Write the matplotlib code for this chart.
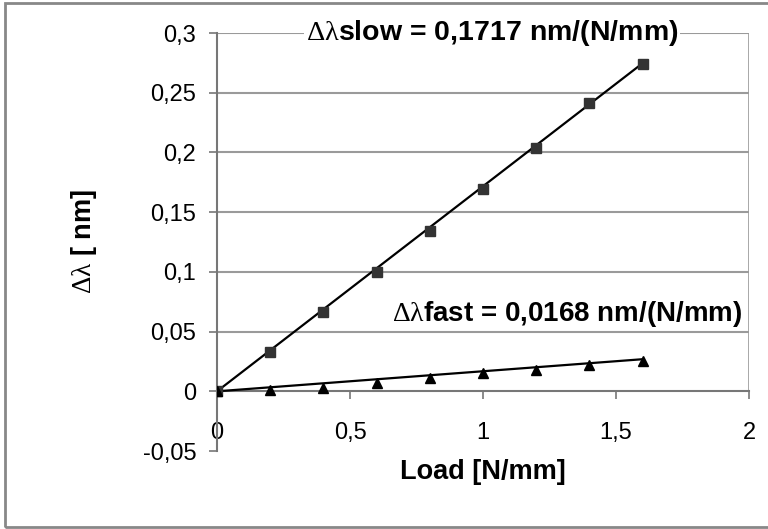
import numpy as np
import matplotlib
matplotlib.use("Agg")
from matplotlib import pyplot as plt
from matplotlib.patches import Rectangle

# data
load = [0.0, 0.2, 0.4, 0.6, 0.8, 1.0, 1.2, 1.4, 1.6]
dl_slow = [0.0, 0.033, 0.066, 0.100, 0.134, 0.169, 0.204, 0.241, 0.274]
dl_fast = [0.0, 0.001, 0.003, 0.007, 0.011, 0.015, 0.018, 0.022, 0.0255]
slope_slow = 0.1717
slope_fast = 0.0168
xticks = [0, 0.5, 1, 1.5, 2]
yticks = [-0.05, 0, 0.05, 0.1, 0.15, 0.2, 0.25, 0.3]
grid_levels = [0.05, 0.1, 0.15, 0.2, 0.25, 0.3]

plt.rcParams["font.family"] = "Liberation Sans"
plt.rcParams["mathtext.fontset"] = "custom"
plt.rcParams["mathtext.rm"] = "Liberation Serif"


def comma(v):
    s = f"{v:g}"
    return s.replace(".", ",")


fig = plt.figure(figsize=(7.68, 5.29), dpi=100)
ax = fig.add_axes([0.2826, 0.1474, 0.6927, 0.7902])

ax.set_xlim(0, 2)
ax.set_ylim(-0.05, 0.3)

# grid lines and right frame of plot area
ax.hlines(grid_levels, 0, 2, color="#9a9a9a", lw=1.5, zorder=1)
ax.axvline(2, ymin=(0 - (-0.05)) / 0.35, ymax=1, color="#9a9a9a", lw=1.2, zorder=1)

# linear trend lines
xs = np.array([0, max(load)])
ax.plot(xs, slope_slow * xs, color="black", lw=1.6, zorder=3)
ax.plot(xs, slope_fast * xs, color="black", lw=1.6, zorder=3)

# data points
ax.plot(load, dl_slow, ls="none", marker="s", ms=6.5, color="#333333", zorder=4)
ax.plot(load, dl_fast, ls="none", marker="^", ms=7, color="black", zorder=4)

# axes styling
for side in ["top", "right"]:
    ax.spines[side].set_visible(False)
ax.spines["bottom"].set_position(("data", 0))
ax.spines["bottom"].set_color("#777777")
ax.spines["left"].set_color("#777777")
ax.spines["bottom"].set_linewidth(1.5)
ax.spines["left"].set_linewidth(1.5)

ax.set_xticks(xticks)
ax.set_xticklabels([comma(v) for v in xticks])
ax.set_yticks(yticks)
ax.set_yticklabels([comma(v) for v in yticks])
ax.tick_params(axis="x", direction="out", length=6, width=1.2, color="#777777",
               labelsize=17, pad=16)
ax.tick_params(axis="y", direction="out", length=6, width=1.2, color="#777777",
               labelsize=17, pad=9)

ax.set_xlabel("Load [N/mm]", fontsize=19.5, fontweight="bold")
ax.xaxis.set_label_coords(0.5, -0.02, transform=ax.transAxes)
ax.set_ylabel(r"$\mathrm{\Delta\lambda}$ [ nm]", fontsize=19.5, fontweight="bold")
ax.yaxis.set_label_coords(-0.222, 0.5, transform=ax.transAxes)

# slope annotations
ax.text(1.034, 0.3, r"$\mathrm{\Delta\lambda}$slow = 0,1717 nm/(N/mm)",
        fontsize=20.5, fontweight="bold", ha="center", va="center", zorder=5,
        bbox=dict(facecolor="white", edgecolor="none", pad=1))
ax.text(0.658, 0.0644, r"$\mathrm{\Delta\lambda}$fast = 0,0168 nm/(N/mm)",
        fontsize=20, fontweight="bold", ha="left", va="center", zorder=5,
        clip_on=False)

# outer chart border
fig.patches.append(Rectangle((5 / 768, 2 / 529), 1.0, 1 - 5 / 529,
                             transform=fig.transFigure, fill=False,
                             edgecolor="#888888", lw=2))

fig.savefig("out.png", dpi=100, facecolor="white")
